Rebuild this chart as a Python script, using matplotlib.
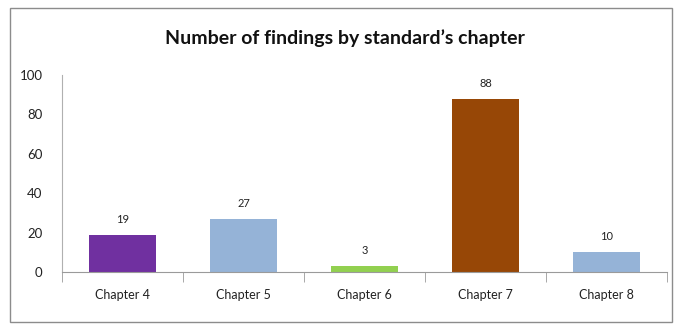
import numpy as np
import matplotlib.pyplot as plt
from matplotlib.patches import Rectangle

chapters = ["Chapter 4", "Chapter 5", "Chapter 6", "Chapter 7", "Chapter 8"]
findings = [19, 27, 3, 88, 10]
colors = ["#7030A0", "#95B3D7", "#92D050", "#974706", "#95B3D7"]
yticks = [0, 20, 40, 60, 80, 100]

plt.rcParams['font.family'] = ['Lato', 'DejaVu Sans']

fig = plt.figure(figsize=(6.81, 3.27), dpi=100)
fig.patches.append(Rectangle((10/681, 5/327), 662/681, 314/327, transform=fig.transFigure,
                             fill=False, edgecolor="#8c8c8c", linewidth=1.0))

ax = fig.add_axes([62/681, 55/327, 605/681, 197/327])
x = np.arange(len(chapters))
bars = ax.bar(x, findings, width=0.56, color=colors)
for xi, v in zip(x, findings):
    ax.text(xi, v + 5, str(v), ha="center", va="bottom", fontsize=8, color="#222222")

ax.set_xlim(-0.5, len(chapters) - 0.5)
ax.set_ylim(0, 100)
ax.set_yticks(yticks)
ax.set_yticklabels([str(t) for t in yticks], fontsize=9.5, color="#222222")
ax.tick_params(axis="y", length=0, pad=14)
ax.set_xticks(x)
ax.set_xticklabels(chapters, fontsize=9, color="#222222")
ax.tick_params(axis="x", length=0, pad=12)
ax.set_xticks(np.arange(len(chapters) + 1) - 0.5, minor=True)
ax.tick_params(axis="x", which="minor", length=7, color="#9a9a9a", direction="out")

for s in ["top", "right"]:
    ax.spines[s].set_visible(False)
ax.spines["left"].set_color("#b0b0b0")
ax.spines["bottom"].set_color("#9a9a9a")

fig.text(345/681, 1 - 38/327, "Number of findings by standard\u2019s chapter",
         ha="center", va="center", fontsize=14, fontweight="bold", color="#111111")

fig.savefig("out.png", dpi=100)
